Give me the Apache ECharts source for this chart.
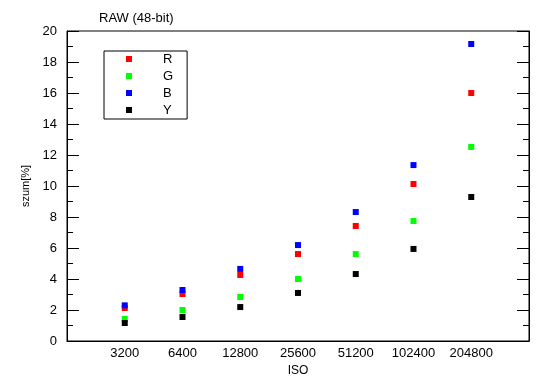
<!DOCTYPE html>
<html><head><meta charset="utf-8">
<script src="https://cdn.jsdelivr.net/npm/echarts@6/dist/echarts.min.js"></script>
<style>html,body{margin:0;padding:0;background:#fff}#c{width:550px;height:389px}</style>
</head><body><div id="c"></div>
<script>
const isoLabels = ['3200','6400','12800','25600','51200','102400','204800'];
const seriesNames = ['R','G','B','Y'];
const valuesR = [2.13, 3.03, 4.26, 5.61, 7.42, 10.13, 16.0];
const valuesG = [1.42, 2.0, 2.84, 4.0, 5.61, 7.74, 12.52];
const valuesB = [2.30, 3.29, 4.65, 6.19, 8.32, 11.35, 19.16];
const valuesY = [1.16, 1.55, 2.19, 3.10, 4.32, 5.94, 9.29];
const yTicks = [0,2,4,6,8,10,12,14,16,18,20];

const colors = ['#ff0000','#00ff00','#0000ff','#000000'];
const allVals = [valuesR, valuesG, valuesB, valuesY];
const axisCats = [''].concat(isoLabels).concat(['']);
const font = 'Liberation Sans, Arial, sans-serif';

const chart = echarts.init(document.getElementById('c'), null, {renderer:'canvas'});
const yAxisBase = {
  type:'value', min:yTicks[0], max:yTicks[yTicks.length-1], interval:2,
  axisLine:{show:true, lineStyle:{color:'#000', width:1}},
  axisTick:{show:true, inside:true, length:12, lineStyle:{color:'#000'}},
  minorTick:{show:true, splitNumber:2, length:6, lineStyle:{color:'#000'}},
  splitLine:{show:false}
};
chart.setOption({
  animation:false,
  backgroundColor:'#fff',
  title:{text:'RAW (48-bit)', left:99, top:12, padding:0, textStyle:{fontFamily:font, fontSize:13, fontWeight:'normal', color:'#000'}},
  grid:{left:67, right:21, top:31, bottom:48, show:true, borderColor:'#000', borderWidth:1},
  legend:{
    orient:'vertical', left:104, top:51, padding:[1,14,2,22],
    borderColor:'#000', borderWidth:1, itemGap:3,
    itemWidth:6, itemHeight:6, icon:'rect',
    data:seriesNames,
    textStyle:{fontFamily:font, fontSize:13, color:'#000', lineHeight:14, padding:[0,0,0,26]}
  },
  xAxis:[{
    type:'category', data:axisCats, boundaryGap:false,
    name:'ISO', nameLocation:'middle', nameGap:23,
    nameTextStyle:{fontFamily:font, fontSize:12, color:'#000'},
    axisLine:{show:true, lineStyle:{color:'#000'}},
    axisTick:{show:false},
    axisLabel:{fontFamily:font, fontSize:13, color:'#000', margin:6, interval:0},
    splitLine:{show:false}
  }],
  yAxis:[
    Object.assign({}, yAxisBase, {
      position:'left',
      name:'szum[%]', nameLocation:'middle', nameGap:34, nameRotate:90,
      nameTextStyle:{fontFamily:font, fontSize:11, color:'#000'},
      axisLabel:{fontFamily:font, fontSize:13, color:'#000', margin:10}
    }),
    Object.assign({}, yAxisBase, {position:'right', axisLabel:{show:false}})
  ],
  series: seriesNames.map((n,i)=>({
    name:n, type:'scatter', symbol:'rect', symbolSize:6,
    itemStyle:{color:colors[i], opacity:1},
    data: isoLabels.map((c,j)=>[c, allVals[i][j]])
  }))
});
</script></body></html>
